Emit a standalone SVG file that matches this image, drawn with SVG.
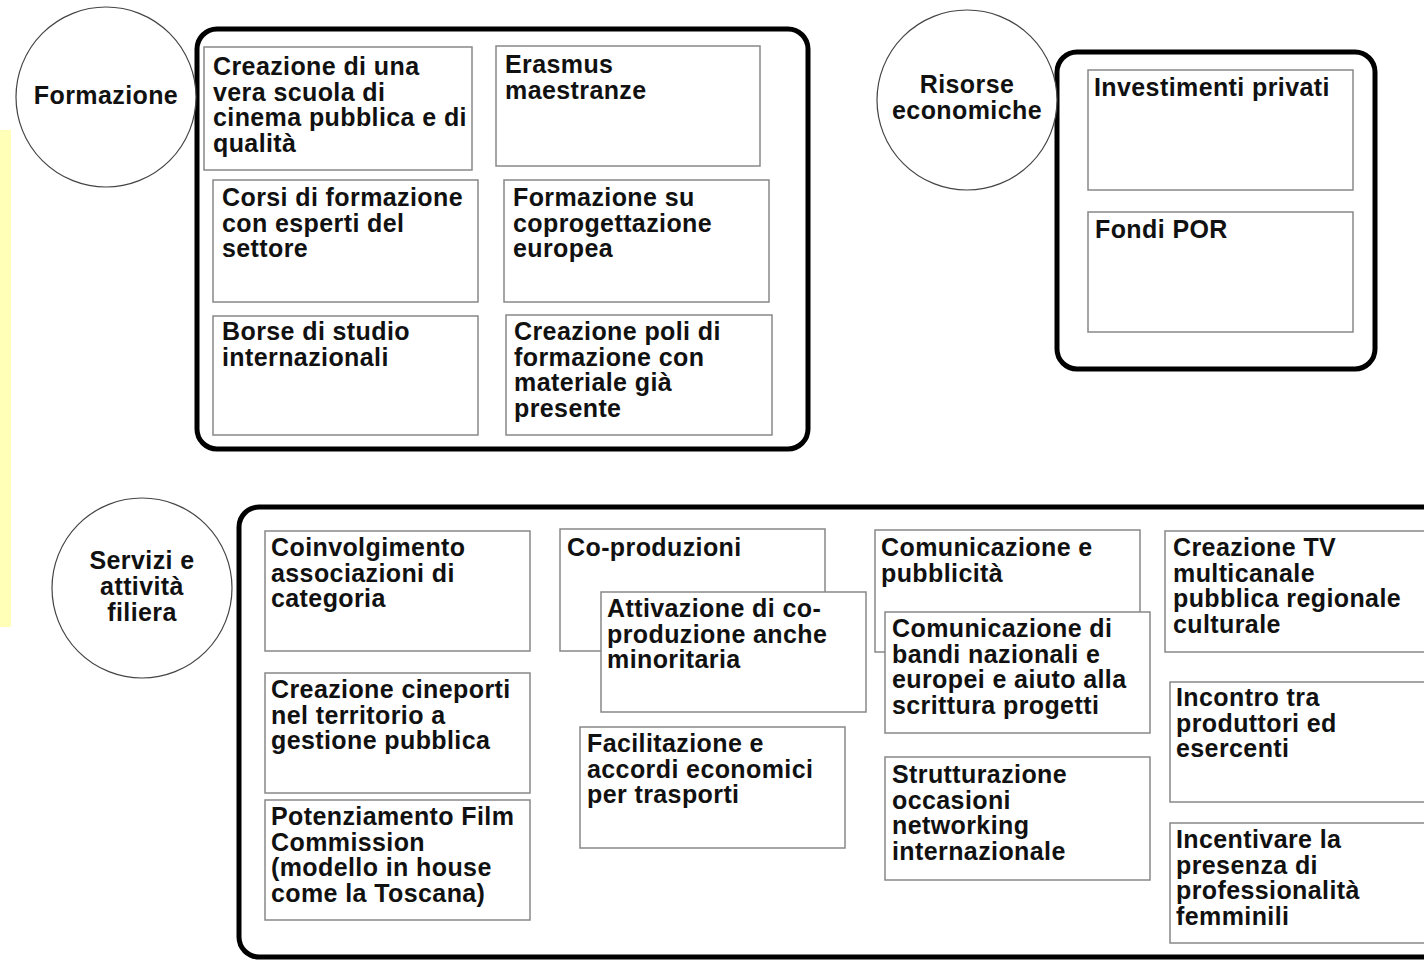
<svg xmlns="http://www.w3.org/2000/svg" width="1424" height="960" viewBox="0 0 1424 960">
<style>
text{font-family:"Liberation Sans",Arial,sans-serif;font-size:25px;font-weight:bold;fill:#111;letter-spacing:0.4px}
.c{text-anchor:middle}
.circle{fill:#fff;stroke:#444;stroke-width:1.2}
.group{fill:#fff;stroke:#000;stroke-width:5}
.box{fill:#fff;stroke:#888;stroke-width:1.5}
</style>
<rect x="0" y="130" width="11" height="497" fill="#ffffb8"/>
<g id="connectors"></g>

<g id="formazione-group">
<rect class="group" x="197" y="29" width="611" height="420" rx="20"/>
</g>
<g id="formazione">
<circle class="circle" cx="106" cy="97" r="90"/>
<text class="c" x="106" y="104">Formazione</text>
</g>
<g id="f1"><rect class="box" x="204" y="47" width="268" height="123"/>
<text x="213" y="75">Creazione di una</text><text x="213" y="100.5">vera scuola di</text><text x="213" y="126">cinema pubblica e di</text><text x="213" y="151.5">qualità</text></g>
<g id="f2"><rect class="box" x="496" y="46" width="264" height="120"/>
<text x="505" y="73">Erasmus</text><text x="505" y="98.5">maestranze</text></g>
<g id="f3"><rect class="box" x="213" y="180" width="265" height="122"/>
<text x="222" y="206">Corsi di formazione</text><text x="222" y="231.5">con esperti del</text><text x="222" y="257">settore</text></g>
<g id="f4"><rect class="box" x="504" y="180" width="265" height="122"/>
<text x="513" y="206">Formazione su</text><text x="513" y="231.5">coprogettazione</text><text x="513" y="257">europea</text></g>
<g id="f5"><rect class="box" x="213" y="316" width="265" height="119"/>
<text x="222" y="340">Borse di studio</text><text x="222" y="365.5">internazionali</text></g>
<g id="f6"><rect class="box" x="506" y="315" width="266" height="120"/>
<text x="514" y="340">Creazione poli di</text><text x="514" y="365.5">formazione con</text><text x="514" y="391">materiale già</text><text x="514" y="416.5">presente</text></g>

<g id="risorse-group">
<rect class="group" x="1057" y="52" width="318" height="317" rx="20"/>
</g>
<g id="risorse">
<circle class="circle" cx="967" cy="100" r="90"/>
<text class="c" x="967" y="93">Risorse</text><text class="c" x="967" y="119">economiche</text>
</g>
<g id="r1"><rect class="box" x="1088" y="70" width="265" height="120"/>
<text x="1094" y="96">Investimenti privati</text></g>
<g id="r2"><rect class="box" x="1088" y="212" width="265" height="120"/>
<text x="1095" y="238">Fondi POR</text></g>

<g id="servizi-group">
<rect class="group" x="239" y="507" width="1220" height="450" rx="20"/>
</g>
<g id="servizi">
<circle class="circle" cx="142" cy="588" r="90"/>
<text class="c" x="142" y="569">Servizi e</text><text class="c" x="142" y="595">attività</text><text class="c" x="142" y="621">filiera</text>
</g>
<g id="s1"><rect class="box" x="265" y="531" width="265" height="120"/>
<text x="271" y="556">Coinvolgimento</text><text x="271" y="581.5">associazioni di</text><text x="271" y="607">categoria</text></g>
<g id="s2"><rect class="box" x="265" y="673" width="265" height="120"/>
<text x="271" y="698">Creazione cineporti</text><text x="271" y="723.5">nel territorio a</text><text x="271" y="749">gestione pubblica</text></g>
<g id="s3"><rect class="box" x="265" y="800" width="265" height="120"/>
<text x="271" y="825">Potenziamento Film</text><text x="271" y="850.5">Commission</text><text x="271" y="876">(modello in house</text><text x="271" y="901.5">come la Toscana)</text></g>
<g id="s4"><rect class="box" x="560" y="529" width="265" height="122"/>
<text x="567" y="556">Co-produzioni</text></g>
<g id="s5"><rect class="box" x="601" y="592" width="265" height="120"/>
<text x="607" y="617">Attivazione di co-</text><text x="607" y="642.5">produzione anche</text><text x="607" y="668">minoritaria</text></g>
<g id="s6"><rect class="box" x="580" y="727" width="265" height="121"/>
<text x="587" y="752">Facilitazione e</text><text x="587" y="777.5">accordi economici</text><text x="587" y="803">per trasporti</text></g>
<g id="s7"><rect class="box" x="875" y="530" width="265" height="122"/>
<text x="881" y="556">Comunicazione e</text><text x="881" y="581.5">pubblicità</text></g>
<g id="s8"><rect class="box" x="885" y="612" width="265" height="121"/>
<text x="892" y="637">Comunicazione di</text><text x="892" y="662.5">bandi nazionali e</text><text x="892" y="688">europei e aiuto alla</text><text x="892" y="713.5">scrittura progetti</text></g>
<g id="s9"><rect class="box" x="885" y="757" width="265" height="123"/>
<text x="892" y="783">Strutturazione</text><text x="892" y="808.5">occasioni</text><text x="892" y="834">networking</text><text x="892" y="859.5">internazionale</text></g>
<g id="s10"><rect class="box" x="1165" y="531" width="265" height="121"/>
<text x="1173" y="556">Creazione TV</text><text x="1173" y="581.5">multicanale</text><text x="1173" y="607">pubblica regionale</text><text x="1173" y="632.5">culturale</text></g>
<g id="s11"><rect class="box" x="1170" y="682" width="265" height="120"/>
<text x="1176" y="706">Incontro tra</text><text x="1176" y="731.5">produttori ed</text><text x="1176" y="757">esercenti</text></g>
<g id="s12"><rect class="box" x="1170" y="823" width="265" height="120"/>
<text x="1176" y="848">Incentivare la</text><text x="1176" y="873.5">presenza di</text><text x="1176" y="899">professionalità</text><text x="1176" y="924.5">femminili</text></g>
</svg>
